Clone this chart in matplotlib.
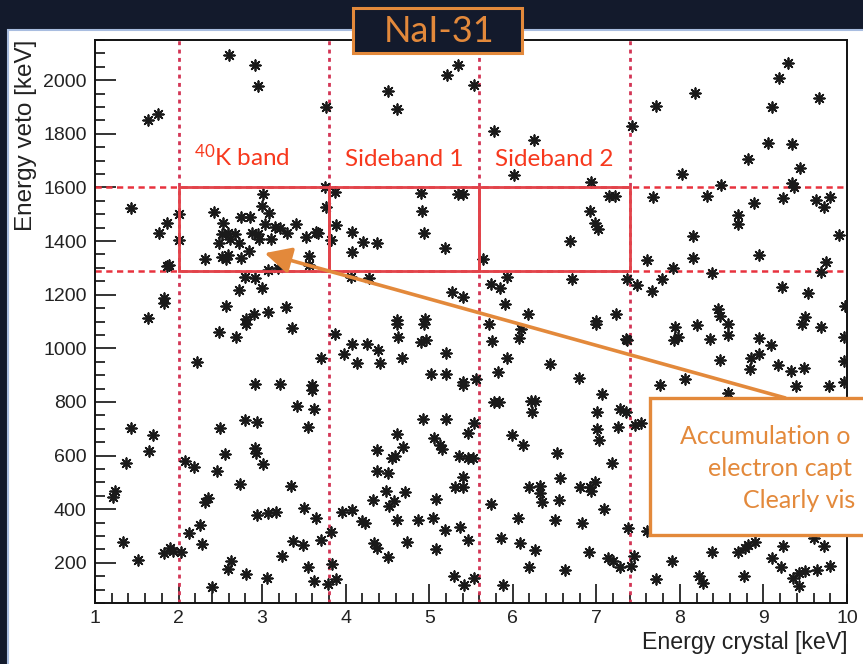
import matplotlib
matplotlib.use('Agg')
import matplotlib.pyplot as plt
from matplotlib.patches import Rectangle
from matplotlib.ticker import MultipleLocator

plt.rcParams['font.family'] = ['Liberation Sans', 'DejaVu Sans']
plt.rcParams['mathtext.fontset'] = 'custom'
plt.rcParams['mathtext.rm'] = 'Lato'
plt.rcParams['mathtext.it'] = 'Lato'

# event positions (crystal energy [keV], veto energy [keV])
crystal_kev = [
    # upper left
    2.60, 2.91, 2.95, 1.64, 1.75, 3.76, 4.51, 4.61, 5.21, 5.35,
    1.43, 1.86, 1.77, 2.01, 2.00, 1.86, 1.89,
    3.01, 3.00, 3.08, 2.43, 2.75, 2.85, 2.53, 3.04, 3.15, 3.41, 3.30, 2.52, 2.59,
    2.67, 2.88, 2.95, 2.96, 3.11, 3.21, 3.52, 3.64, 3.67, 2.48, 2.61, 2.72, 2.84,
    2.75, 2.52, 2.57, 2.59, 2.32, 3.56, 3.56, 3.75, 3.76, 3.82,
    3.07, 3.19, 2.80, 2.92, 3.00, 2.72, 1.83, 1.82, 2.57, 3.07, 2.90, 3.29, 1.64, 2.81,
    3.87, 4.90, 5.35, 5.40, 4.91, 4.08, 4.94, 3.88, 4.21, 4.38, 4.08, 5.19, 4.06,
    4.28, 5.27, 5.40, 4.62, 4.95,
    # upper right
    5.53, 5.77, 6.25, 6.02, 7.72, 8.18, 9.29, 9.19, 9.10, 9.66, 7.43, 9.06, 9.34,
    8.81, 9.44, 8.03, 6.94, 8.49, 9.34, 9.37, 7.15, 7.22, 7.68, 8.32, 8.89, 9.23,
    9.63, 9.72, 9.80, 6.93, 6.98, 7.02, 8.69, 8.70, 8.16, 9.90, 6.69, 5.64, 7.61,
    8.16, 8.95, 9.75, 7.92, 8.39, 9.69, 5.74, 5.85, 5.93, 6.71, 7.37, 7.49, 7.78,
    7.67, 9.22, 9.53, 5.91, 6.18, 7.23, 8.46, 8.48, 9.50, 9.98, 7.00,
    # lower left
    2.48, 2.69, 2.81, 3.36, 2.22, 2.92, 3.22, 3.60, 3.60, 3.42, 3.62, 3.70, 3.87,
    3.98, 4.08, 4.25, 4.39, 4.13, 4.41, 4.62, 4.63, 4.67, 4.94, 4.90, 4.96, 5.20,
    5.02, 5.20, 5.40, 5.40, 1.43, 1.70, 1.37, 1.65, 2.50, 2.79, 2.94, 3.55, 2.08,
    2.18, 2.46, 2.56, 2.91, 2.93, 3.01, 2.73, 3.34, 1.24, 1.22, 2.32, 2.35, 2.94,
    3.07, 3.17, 3.50, 3.64, 2.13, 2.26, 2.28, 1.33, 1.51, 1.82, 1.90, 1.93, 2.03,
    2.59, 2.63, 2.81, 2.40, 3.06, 3.24, 3.37, 3.49, 3.55, 3.62, 3.70, 3.79, 3.82,
    3.84, 3.89, 3.96, 4.08, 4.20, 4.23, 4.37, 4.38, 4.51, 4.33, 4.48, 4.52, 4.58,
    4.56, 4.59, 4.62, 4.69, 4.71, 4.62, 4.87, 5.04, 5.19, 5.08, 5.06, 5.13, 5.15,
    4.93, 5.20, 5.46, 5.36, 5.46, 5.31, 5.40, 5.41, 5.37, 5.46, 4.34, 4.38, 4.51,
    4.73, 5.08, 5.30, 5.42,
    # lower right
    5.72, 5.75, 6.10, 6.07, 7.00, 5.93, 5.82, 5.56, 6.45, 6.79, 7.35, 7.37, 7.94,
    7.98, 7.93, 8.21, 8.36, 8.58, 8.57, 8.95, 9.09, 8.95, 8.85, 8.84, 8.48, 9.18,
    9.33, 9.49, 9.46, 9.69, 9.97, 9.97, 9.97, 8.06, 7.76, 9.39, 9.78, 8.58, 5.77,
    5.84, 6.22, 6.26, 6.23, 7.07, 7.01, 7.28, 7.36, 7.26, 7.01, 7.03, 5.54, 7.46,
    7.53, 5.99, 6.12, 5.52, 6.53, 7.19, 6.56, 6.20, 6.32, 6.33, 6.35, 6.55, 6.80,
    6.92, 6.98, 6.94, 5.74, 7.09, 6.06, 6.50, 6.83, 7.38, 7.61, 5.86, 6.09, 6.27,
    6.19, 6.63, 6.91, 7.14, 7.20, 7.28, 7.45, 7.42, 5.54, 5.88, 7.72, 7.90, 8.23,
    8.28, 8.39, 8.70, 8.78, 8.82, 8.90, 8.77, 9.10, 9.23, 9.21, 9.35, 9.42, 9.50,
    9.43, 9.64, 9.80, 9.60, 9.72, 9.97,
]
veto_kev = [
    # upper left
    2093, 2056, 1978, 1851, 1873, 1901, 1959, 1894, 2021, 2056,
    1522, 1468, 1431, 1501, 1404, 1307, 1311,
    1575, 1532, 1503, 1507, 1488, 1488, 1466, 1462, 1451, 1463, 1429, 1425, 1429,
    1425, 1429, 1425, 1406, 1407, 1450, 1416, 1435, 1429, 1391, 1407, 1391, 1364,
    1338, 1342, 1332, 1348, 1332, 1344, 1310, 1602, 1528, 1404,
    1292, 1298, 1267, 1264, 1226, 1217, 1186, 1168, 1158, 1137, 1127, 1155, 1112, 1108,
    1584, 1580, 1575, 1574, 1512, 1435, 1429, 1460, 1395, 1394, 1358, 1373, 1267,
    1264, 1211, 1192, 1105, 1108,
    # upper right
    1981, 1811, 1776, 1648, 1904, 1953, 2066, 2009, 1901, 1935, 1829, 1764, 1761,
    1705, 1674, 1650, 1621, 1609, 1615, 1602, 1569, 1569, 1563, 1568, 1543, 1559,
    1553, 1528, 1565, 1513, 1469, 1444, 1499, 1462, 1420, 1423, 1402, 1333, 1329,
    1338, 1348, 1323, 1298, 1282, 1283, 1239, 1226, 1265, 1257, 1258, 1236, 1258,
    1215, 1228, 1208, 1164, 1128, 1128, 1145, 1121, 1115, 1159, 1103,
    # lower left
    1061, 1042, 1092, 1076, 949, 868, 866, 862, 843, 784, 772, 964, 1055,
    980, 1017, 1017, 993, 945, 945, 1092, 1042, 962, 1092, 1024, 1030, 984,
    906, 906, 875, 862, 701, 676, 573, 617, 704, 732, 724, 707, 581,
    559, 544, 606, 627, 608, 569, 494, 487, 466, 447, 428, 441, 379,
    385, 391, 406, 366, 311, 342, 271, 277, 211, 236, 255, 245, 242,
    177, 205, 159, 110, 143, 224, 280, 267, 184, 133, 286, 122, 313,
    195, 139, 391, 398, 356, 348, 621, 542, 534, 435, 466, 410, 432,
    590, 600, 679, 633, 463, 360, 358, 366, 323, 438, 664, 639, 623,
    738, 738, 683, 598, 590, 484, 484, 521, 333, 286, 273, 255, 221,
    276, 251, 152, 118,
    # lower right
    1092, 1026, 1071, 1038, 1092, 964, 912, 885, 943, 890, 1034, 1030, 1079,
    1042, 1030, 1088, 1034, 1092, 1048, 1038, 1014, 980, 962, 924, 955, 939,
    914, 927, 1092, 1079, 1042, 952, 875, 885, 862, 860, 860, 834, 798,
    800, 804, 804, 763, 829, 761, 773, 763, 707, 699, 658, 720, 713,
    720, 676, 639, 590, 608, 571, 515, 484, 488, 459, 428, 435, 484,
    484, 503, 466, 418, 401, 366, 358, 348, 329, 319, 292, 273, 246,
    183, 174, 242, 218, 208, 183, 224, 187, 143, 118, 139, 208, 149,
    125, 240, 242, 255, 267, 277, 149, 218, 261, 183, 143, 162, 168,
    112, 174, 187, 292, 261, 410,
]

band_edges = [2.0, 3.8, 5.6, 7.4]
veto_window = [1290, 1600]
band_names = ['$^{40}$K band', 'Sideband 1', 'Sideband 2']
# comment text, as much of it as the slide shows
note_lines = ['Accumulation o', 'electron capt', 'Clearly vis']

navy = '#131a2c'
orange = '#e3893b'
red_box = '#e2434a'
red_dash = '#e8323e'
red_vdash = '#d33555'

fig = plt.figure(figsize=(8.63, 6.64), dpi=100, facecolor=navy)
W, H = 863, 664

# white canvas behind the ROOT pad
fig.patches.append(Rectangle((8 / W, -0.01), 1.0, (664 - 30) / H + 0.01,
                             transform=fig.transFigure, facecolor='white',
                             edgecolor='#a9bde0', lw=1.5, zorder=-5))

ax = fig.add_axes([95 / W, (H - 603) / H, 752 / W, 563 / H])
ax.set_facecolor('white')

ax.scatter(crystal_kev, veto_kev, marker=(8, 2, 0), s=58, linewidths=1.3,
           color='#1a1a1a', zorder=3)

for xe in band_edges:
    ax.axvline(xe, color=red_vdash, lw=2.0, ls=(0, (1.4, 1.6)), zorder=2)
for ye in veto_window:
    ax.axhline(ye, color=red_dash, lw=1.8, ls=(0, (2.5, 1.8)), zorder=2)
for a, b in zip(band_edges[:-1], band_edges[1:]):
    ax.add_patch(Rectangle((a, veto_window[0]), b - a, veto_window[1] - veto_window[0],
                           fill=False, ec=red_box, lw=2.0, zorder=4))

for a, name in zip(band_edges[:-1], band_names):
    ax.text(a + 0.19, 1679, name, color='#f7381d', fontsize=17.5, family='Lato',
            ha='left', va='baseline', zorder=5)

ax.annotate('', xy=(3.03, 1355), xytext=(9.26, 815),
            arrowprops=dict(arrowstyle='-|>,head_length=0.8,head_width=0.4',
                            color=orange, lw=2.6, mutation_scale=20,
                            shrinkA=0, shrinkB=0),
            zorder=6)

ax.set_xlim(1, 10)
ax.set_ylim(50, 2150)
ax.xaxis.set_major_locator(MultipleLocator(1))
ax.xaxis.set_minor_locator(MultipleLocator(0.2))
ax.yaxis.set_major_locator(MultipleLocator(200))
ax.yaxis.set_minor_locator(MultipleLocator(50))
ax.tick_params(which='both', direction='in', top=False, right=False,
               colors='#111111', labelcolor='#222222', labelsize=14, width=1.2)
ax.tick_params(axis='y', which='major', length=15, pad=6)
ax.tick_params(axis='y', which='minor', length=7)
ax.tick_params(axis='x', which='major', length=14, pad=5)
ax.tick_params(axis='x', which='minor', length=7)
for sp in ax.spines.values():
    sp.set_linewidth(1.4)
    sp.set_color('#111111')

ax.set_xlabel('Energy crystal [keV]', loc='right', fontsize=16.7, color='#222222', labelpad=3)
ax.set_ylabel('Energy veto [keV]', loc='top', fontsize=17.5, color='#222222', labelpad=4)

# detector tag at the top
fig.patches.append(Rectangle((353 / W, 1 - 53 / H), 169 / W, 45 / H,
                             transform=fig.transFigure, facecolor=navy,
                             edgecolor=orange, lw=2.2, zorder=5))
fig.text(439 / W, 1 - 31 / H, 'NaI-31', color=orange, fontsize=26, family='Lato',
         ha='center', va='center', zorder=6)

# comment box on the right (cut by the slide edge)
fig.patches.append(Rectangle((650 / W, 1 - 535 / H), 0.3, 137 / H,
                             transform=fig.transFigure, facecolor='white',
                             edgecolor=orange, lw=2.4, zorder=7))
for txt, x0, y0 in zip(note_lines, [680, 708, 743], [437, 469, 500]):
    fig.text(x0 / W, 1 - y0 / H, txt, color=orange, fontsize=18, family='Lato',
             ha='left', va='center', zorder=8)

fig.savefig('out.png', dpi=100, facecolor=navy)
